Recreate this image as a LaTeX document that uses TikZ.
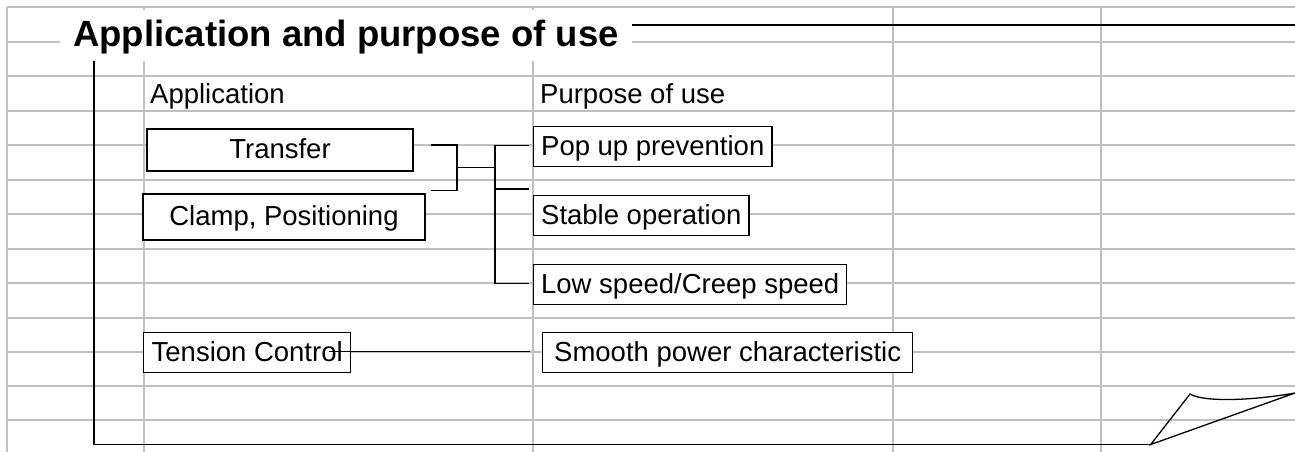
\documentclass[tikz,border=0pt]{standalone}
\usepackage{fontspec}
\setmainfont{Liberation Sans}
\definecolor{gridgray}{RGB}{192,192,192}
\tikzset{
  gridline/.style={draw=gridgray, line width=2pt},
  frameline/.style={draw=black, line width=1.6pt},
  conn/.style={draw=black, line width=1.3pt},
  box/.style={draw=black, line width=1.3pt, fill=white, font=\fontsize{27.5}{33}\selectfont,
    text height=21.5pt, text depth=4.5pt, inner ysep=7pt, inner xsep=7.5pt},
  lbox/.style={box, anchor=north west},
  cbox/.style={box},
  head/.style={font=\fontsize{27.5}{33}\selectfont, inner sep=0pt, anchor=base west},
  titlebox/.style={fill=white, font=\fontsize{36.5}{42}\selectfont\bfseries, anchor=base west,
    inner xsep=13pt, inner ysep=0pt, text height=36pt, text depth=15pt}
}
\begin{document}
\begin{tikzpicture}[x=1pt,y=-1pt]
\useasboundingbox[fill=white] (0,0) rectangle (1295,452);
% spreadsheet grid
\foreach \y in {7,42,76,110.5,145,179.5,214,248.5,283,317.5,351.5,386,420}
  \draw[gridline] (7,\y) -- (1295,\y);
\foreach \x in {7,144,533,893,1101}
  \draw[gridline] (\x,7) -- (\x,452);
% frame with page curl
\coordinate (fc) at (1150.7,444.5);
\coordinate (fbl) at (94,444.5);
\coordinate (ftl) at (94,25);
\coordinate (ftr) at (1295,25);
\coordinate (ctip) at (1190,394);
\coordinate (cend) at (1295,393);
\draw[frameline] (fc) -- (fbl) -- (ftl) -- (ftr);
\draw[conn] (fc) -- (ctip) .. controls (1203,402) and (1250,401) .. (cend) -- cycle;
% title
\node[titlebox] (title) at (60,46.5) {Application and purpose of use};
% headers
\node[head] (happ) at (150,103) {Application};
\node[head] (hpur) at (540,103) {Purpose of use};
% application boxes
\node[cbox, minimum width=266pt, minimum height=42pt] (transfer) at (280,150) {Transfer};
\node[cbox, minimum width=282pt, minimum height=46pt] (clamp) at (284,217) {Clamp, Positioning};
\node[lbox, inner xsep=8pt] (tension) at (143,332) {Tension Control};
% purpose boxes
\node[lbox] (pop) at (533,126) {Pop up prevention};
\node[lbox] (stable) at (533,195) {Stable operation};
\node[lbox] (low) at (533,264) {Low speed/Creep speed};
\node[lbox, minimum width=370pt] (smooth) at (542,332) {Smooth power characteristic};
% connectors
\coordinate (j1) at (457,167.3);
\coordinate (j2) at (495,167.3);
\coordinate (ms) at (529,189);
\draw[conn] ([xshift=17pt,yshift=5pt]transfer.east) -| (j1) |- ([xshift=17pt,yshift=-40.7pt]transfer.east);
\draw[conn] (j1) -- (j2);
\draw[conn] ([xshift=-4pt,yshift=1.5pt]pop.west) -| (j2) |- ([xshift=-4pt,yshift=1.5pt]low.west);
\draw[conn] (j2 |- ms) -- (ms);
\draw[conn] ([xshift=-22pt,yshift=1.3pt]tension.east) -- ([xshift=-12pt,yshift=1.3pt]smooth.west);
\end{tikzpicture}
\end{document}
